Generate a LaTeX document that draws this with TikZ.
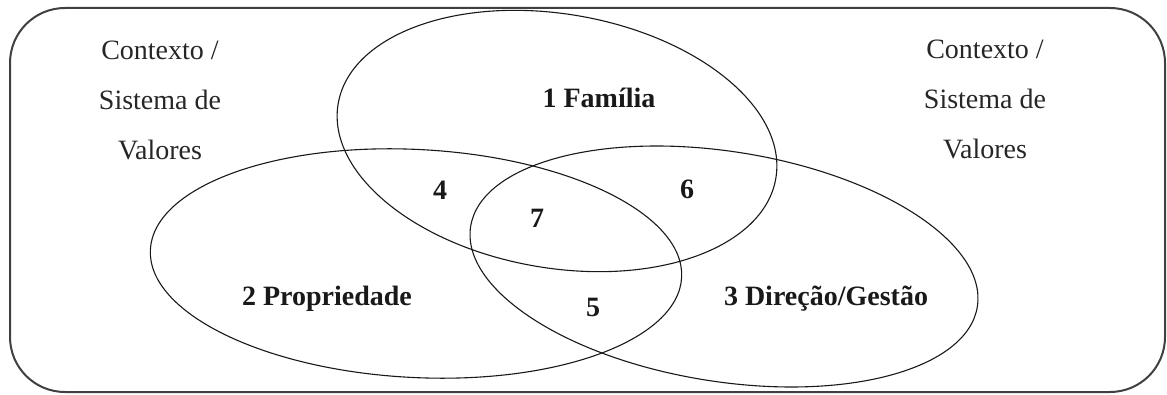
\documentclass[tikz,border=0pt]{standalone}
\usepackage{fontspec}
\setmainfont{Liberation Serif}
\usetikzlibrary{shapes.geometric}
\begin{document}
\begin{tikzpicture}[x=1pt,y=1pt,
  setellipse/.style={ellipse, draw=black!90, line width=1.1pt, inner sep=0pt, outer sep=0pt},
  ctxtext/.style={align=center, text=black!85, font=\fontsize{28}{50}\selectfont},
  bigtext/.style={text=black!90, font=\fontsize{28}{34}\selectfont\bfseries},
  numtext/.style={text=black!90, font=\fontsize{28}{34}\selectfont\bfseries}]
\useasboundingbox (0,0) rectangle (1167,394);
\draw[line width=2pt, draw=black!75, rounded corners=55pt] (10,2) rectangle (1165,386);
\node[setellipse, minimum width=444pt, minimum height=254pt, rotate=-9.7] (fam) at (557,253) {};
\node[setellipse, minimum width=532pt, minimum height=228pt, rotate=-3] (prop) at (416,130.5) {};
\node[setellipse, minimum width=513pt, minimum height=230pt, rotate=-9] (dir) at (724,127.5) {};
\node[ctxtext] (ctxl) at (160,294) {Contexto /\\Sistema de\\Valores};
\node[ctxtext] (ctxr) at (985,295) {Contexto /\\Sistema de\\Valores};
\node[bigtext] (lfam) at (599,296) {1 Família};
\node[bigtext] (lprop) at (327,95) {2 Propriedade};
\node[bigtext] (ldir) at (826,95) {3 Direção/Gestão};
\node[numtext] (n4) at (440,204) {4};
\node[numtext] (n7) at (537,176) {7};
\node[numtext] (n6) at (687,205) {6};
\node[numtext] (n5) at (593,87) {5};
\end{tikzpicture}
\end{document}
